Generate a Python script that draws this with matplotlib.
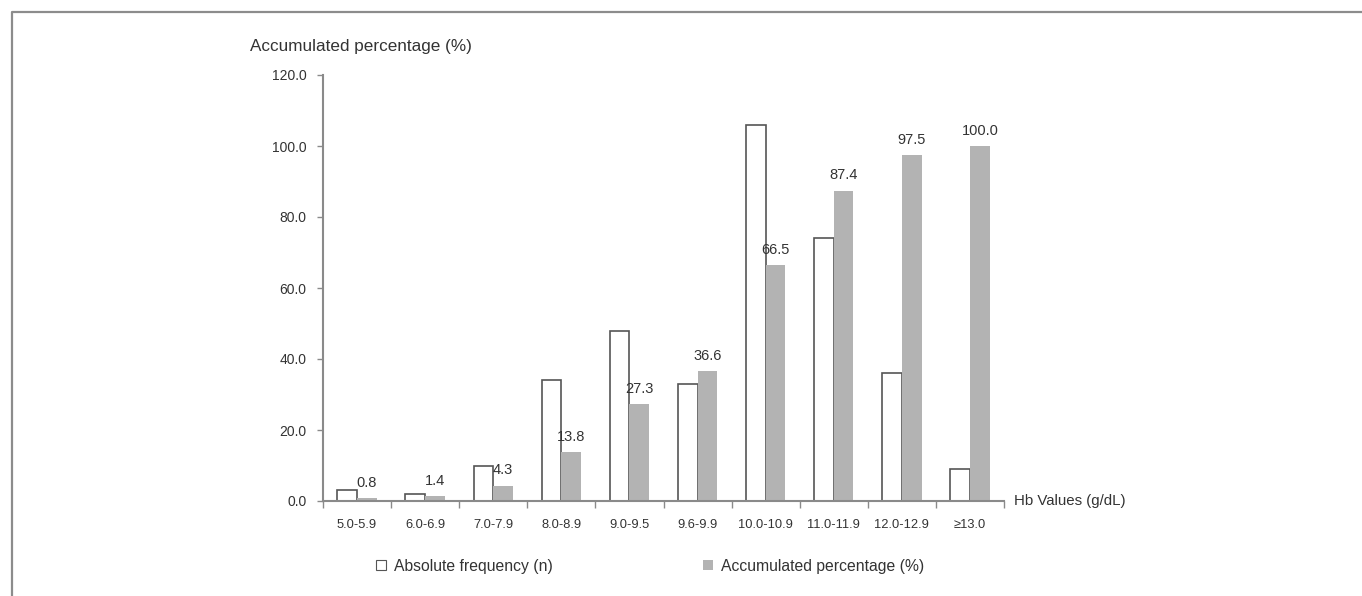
import matplotlib
matplotlib.use("Agg")
import matplotlib.pyplot as plt
from matplotlib.lines import Line2D
import numpy as np

plt.rcParams['font.family'] = ['Liberation Sans', 'DejaVu Sans']

categories = ["5.0-5.9", "6.0-6.9", "7.0-7.9", "8.0-8.9", "9.0-9.5",
              "9.6-9.9", "10.0-10.9", "11.0-11.9", "12.0-12.9", "≥13.0"]
abs_freq = [3, 2, 10, 34, 48, 33, 106, 74, 36, 9]
acc_pct = [0.8, 1.4, 4.3, 13.8, 27.3, 36.6, 66.5, 87.4, 97.5, 100.0]
yticks = [0, 20, 40, 60, 80, 100, 120]

text_c = "#333333"
axis_c = "#8a8a8a"
gray = "#b3b3b3"

fig = plt.figure(figsize=(13.62, 5.96), dpi=100)
ax = fig.add_axes([323/1362, 95/596, (1004-323)/1362, (501-75)/596])

x = np.arange(len(categories))
w = 0.29
b1 = ax.bar(x - w/2, abs_freq, width=w, facecolor="white", edgecolor="#555555",
            linewidth=1.2, label="Absolute frequency (n)")
b2 = ax.bar(x + w/2, acc_pct, width=w, facecolor=gray, edgecolor="none",
            label="Accumulated percentage (%)")
for xi, v in zip(x, acc_pct):
    ax.annotate(f"{v:.1f}", (xi + w/2, v), xytext=(0, 11), textcoords="offset points",
                ha="center", va="center", fontsize=10.5, color=text_c)

ax.set_xlim(-0.5, len(categories) - 0.5)
ax.set_ylim(0, 120)
ax.set_yticks(yticks)
ax.set_yticklabels([f"{t:.1f}" for t in yticks])
ax.set_xticks(x)
ax.set_xticklabels(categories)
ax.set_xticks(np.arange(-0.5, len(categories) + 0.5, 1), minor=True)
ax.tick_params(axis="x", which="major", length=0, pad=13, labelsize=9.3, labelcolor=text_c)
ax.tick_params(axis="x", which="minor", length=5, width=1, color=axis_c, direction="out")
ax.tick_params(axis="y", length=4, width=1, color=axis_c, direction="out", pad=8,
               labelsize=10, labelcolor=text_c)
for s in ["top", "right"]:
    ax.spines[s].set_visible(False)
for s in ["left", "bottom"]:
    ax.spines[s].set_color(axis_c)
    ax.spines[s].set_linewidth(1.5)

fig.text(250/1362, 1 - 47/596, "Accumulated percentage (%)", fontsize=12.3,
         color=text_c, ha="left", va="center")
fig.text(1014/1362, 1 - 501/596, "Hb Values (g/dL)", fontsize=10.8,
         color=text_c, ha="left", va="center")

leg = fig.legend(handles=[b1, b2], loc="center", bbox_to_anchor=(650/1362, 1 - 566/596),
                 ncol=2, frameon=False, fontsize=11.3, handlelength=0.65, handleheight=0.65,
                 handletextpad=0.5, columnspacing=9.6, labelcolor=text_c)
for h in leg.legend_handles:
    h.set_linewidth(0.8)

fig.add_artist(Line2D([12/1362, 12/1362, 1], [0, 1 - 12/596, 1 - 12/596],
                      transform=fig.transFigure, color="#8c8c8c", linewidth=1.6))

fig.savefig("out.png", dpi=100)
